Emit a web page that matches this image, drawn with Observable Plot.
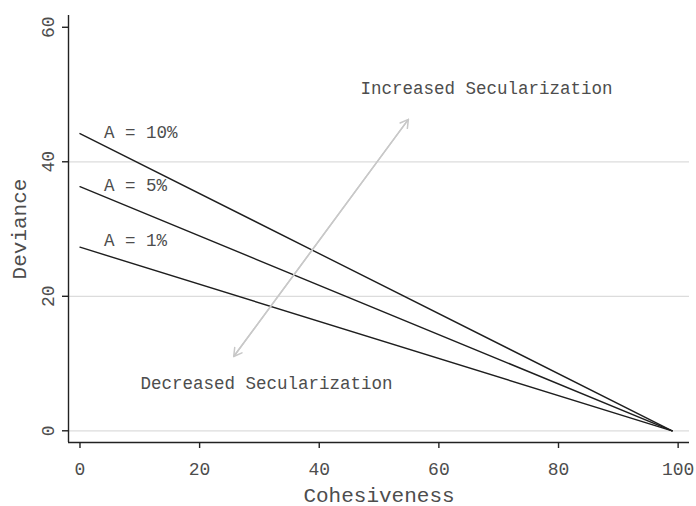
<!DOCTYPE html>
<html>
<head>
<meta charset="utf-8">
<script src="https://cdn.jsdelivr.net/npm/d3@7"></script>
<script src="https://cdn.jsdelivr.net/npm/@observablehq/plot@0.6"></script>
<style>
  html, body { margin: 0; padding: 0; background: #fff; }
  svg { display: block; }
</style>
</head>
<body>
<div id="chart"></div>
<script>
// ---- data ----
const seriesLabels = ["A = 10%", "A = 5%", "A = 1%"];
const startDeviance = [44.2, 36.3, 27.3];   // deviance at cohesiveness 0
const endDeviance = [0, 0, 0];              // deviance at cohesiveness 99
const cohesivenessStart = 0;
const cohesivenessEnd = 99;
const labelX = [4, 4, 4];
const labelY = [44.4, 36.5, 28.3];
const xTicks = [0, 20, 40, 60, 80, 100];
const yTicks = [0, 20, 40, 60];
const gridY = [0, 20, 40];
const noteText = ["Increased Secularization", "Decreased Secularization"];
const noteX = [46.9, 10.1];
const noteY = [50.9, 7.0];
const arrowFrom = {x: 25.7, y: 11.05};
const arrowTo = {x: 54.9, y: 46.3};

const xDomain = [-1.92, 101.9];
const yDomain = [-1.74, 61.75];

const lines = [];
seriesLabels.forEach((s, i) => {
  lines.push({series: s, x: cohesivenessStart, y: startDeviance[i]});
  lines.push({series: s, x: cohesivenessEnd, y: endDeviance[i]});
});
const labels = seriesLabels.map((s, i) => ({text: s, x: labelX[i], y: labelY[i]}));
const notes = noteText.map((t, i) => ({text: t, x: noteX[i], y: noteY[i]}));

const FONT = "'Courier New', 'Liberation Mono', monospace";
const TXT = "#4d4d4d";

const chart = Plot.plot({
  width: 696,
  height: 506,
  marginLeft: 68,
  marginRight: 7,
  marginTop: 15,
  marginBottom: 64,
  style: {fontFamily: FONT, background: "#fff"},
  x: {domain: xDomain},
  y: {domain: yDomain},
  marks: [
    Plot.ruleY(gridY, {stroke: "#dcdcdc", strokeWidth: 1.2}),
    Plot.ruleX([xDomain[0]], {stroke: "#222", strokeWidth: 1.4}),
    Plot.ruleY([yDomain[0]], {stroke: "#222", strokeWidth: 1.4}),
    Plot.axisX({
      ticks: xTicks, tickSize: 6, tickPadding: 14, stroke: "#222",
      fontSize: 18, fill: TXT, label: null, strokeWidth: 1.4
    }),
    Plot.axisY({
      ticks: yTicks, tickSize: 6, tickPadding: 9, stroke: "#222",
      tickRotate: -90, textAnchor: "middle", lineAnchor: "bottom",
      fontSize: 18, fill: TXT, label: null, strokeWidth: 1.4
    }),
    Plot.text(["Cohesiveness"], {frameAnchor: "bottom", dy: 59, lineAnchor: "bottom", fontSize: 21, fill: TXT}),
    Plot.text(["Deviance"], {frameAnchor: "left", dx: -43, rotate: -90, textAnchor: "middle", lineAnchor: "bottom", fontSize: 21, fill: TXT}),
    Plot.line(lines, {x: "x", y: "y", z: "series", stroke: "#1e1e1e", strokeWidth: 1.4}),
    Plot.arrow([{}], {x1: arrowFrom.x, y1: arrowFrom.y, x2: arrowTo.x, y2: arrowTo.y, stroke: "#c8c8c8", strokeWidth: 1.5, headLength: 9}),
    Plot.arrow([{}], {x1: arrowTo.x, y1: arrowTo.y, x2: arrowFrom.x, y2: arrowFrom.y, stroke: "#c8c8c8", strokeWidth: 1.5, headLength: 9}),
    Plot.text(labels, {x: "x", y: "y", text: "text", textAnchor: "start", lineAnchor: "middle", fontSize: 17.5, fill: TXT}),
    Plot.text(notes, {x: "x", y: "y", text: "text", textAnchor: "start", lineAnchor: "middle", fontSize: 17.5, fill: TXT})
  ]
});
document.getElementById("chart").appendChild(chart);
</script>
</body>
</html>
